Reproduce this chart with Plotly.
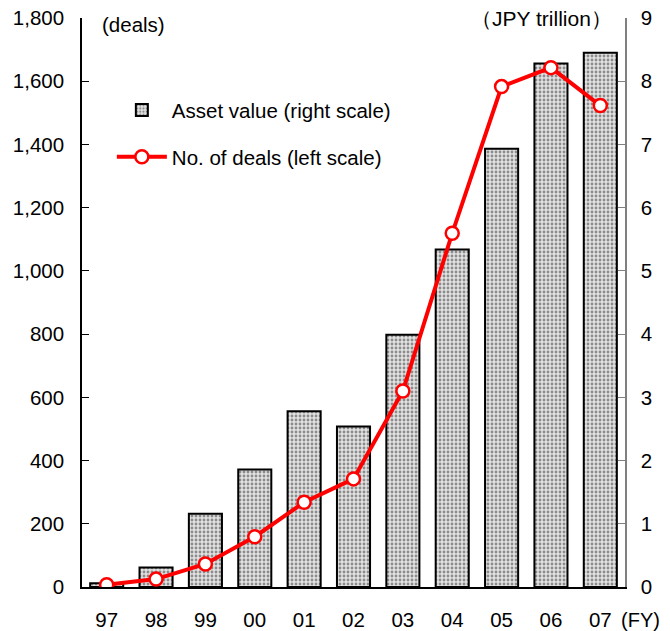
import plotly.graph_objects as go

years = ["97", "98", "99", "00", "01", "02", "03", "04", "05", "06", "07"]
asset_value = [0.06, 0.31, 1.16, 1.86, 2.78, 2.54, 3.99, 5.34, 6.93, 8.28, 8.45]
deals = [7, 25, 73, 159, 268, 342, 620, 1119, 1583, 1643, 1523]
left_ticks = [0, 200, 400, 600, 800, 1000, 1200, 1400, 1600, 1800]
right_ticks = [0, 1, 2, 3, 4, 5, 6, 7, 8, 9]

FONT = "Arial, Liberation Sans, sans-serif"

fig = go.Figure()
# bars on the primary (right-side) axis so that the line axis overlays it
fig.add_trace(go.Bar(
    x=years, y=asset_value, name="Asset value (right scale)", yaxis="y",
    width=0.67,
    marker=dict(color="#e0e0e0", line=dict(color="black", width=2),
                pattern=dict(shape=".", fgcolor="#333333", bgcolor="#e2e2e2",
                             size=4, solidity=0.4)),
    legendgroup="a",
))
fig.add_trace(go.Scatter(
    x=years, y=deals, name="No. of deals (left scale)", yaxis="y2",
    mode="lines+markers",
    line=dict(color="#ff0000", width=4),
    marker=dict(symbol="circle", size=13, color="white",
                line=dict(color="#ff0000", width=2.5)),
    legendgroup="b",
))

fig.update_layout(
    width=670, height=631,
    margin=dict(l=82, r=45, t=18, b=44),
    plot_bgcolor="white", paper_bgcolor="white",
    font=dict(family=FONT, size=20, color="black"),
    showlegend=True,
    legend=dict(x=0.055, y=0.873, xanchor="left", yanchor="top",
                bgcolor="rgba(0,0,0,0)", font=dict(size=20.5),
                itemwidth=50, traceorder="grouped", tracegroupgap=17),
    bargap=0.33,
    xaxis=dict(type="category", range=[-0.5, 10.5], showgrid=False,
               showline=True, linecolor="black", linewidth=1.5,
               ticks="", ticklabelstandoff=14, tickfont=dict(size=20.5),
               automargin=False),
    yaxis=dict(range=[0, 9], tickvals=right_ticks,
               side="right", showgrid=False, zeroline=False,
               showline=True, linecolor="#808080", linewidth=1.5,
               ticks="inside", ticklen=7, tickcolor="#808080",
               ticklabelstandoff=10, tickfont=dict(size=20.5),
               ticklabeloverflow="allow", automargin=False),
    yaxis2=dict(range=[0, 1800], tickvals=left_ticks,
                ticktext=[f"{v:,}" for v in left_ticks],
                overlaying="y", side="left",
                showgrid=False, zeroline=False, showline=True,
                linecolor="black", linewidth=1.5,
                ticks="inside", ticklen=7, tickcolor="black",
                ticklabelstandoff=12, tickfont=dict(size=20.5),
                ticklabeloverflow="allow", automargin=False),
    annotations=[
        dict(text="(deals)", xref="paper", yref="paper", x=0.033, y=0.989,
             xanchor="left", yanchor="middle", showarrow=False,
             font=dict(size=20.5)),
        dict(text="（JPY trillion）", xref="paper", yref="paper", x=0.98, y=1.0,
             xanchor="right", yanchor="middle", showarrow=False,
             font=dict(size=21)),
        dict(text="(FY)", xref="paper", yref="paper", x=1.069, y=-0.058,
             xanchor="right", yanchor="middle", showarrow=False,
             font=dict(size=20)),
    ],
)

# remove the default 8px page margin so the 670x631 figure fills the window
fig.write_html("out.html",
               config={"displayModeBar": False},
               post_script="document.body.style.margin='0';document.body.style.overflow='hidden';")
